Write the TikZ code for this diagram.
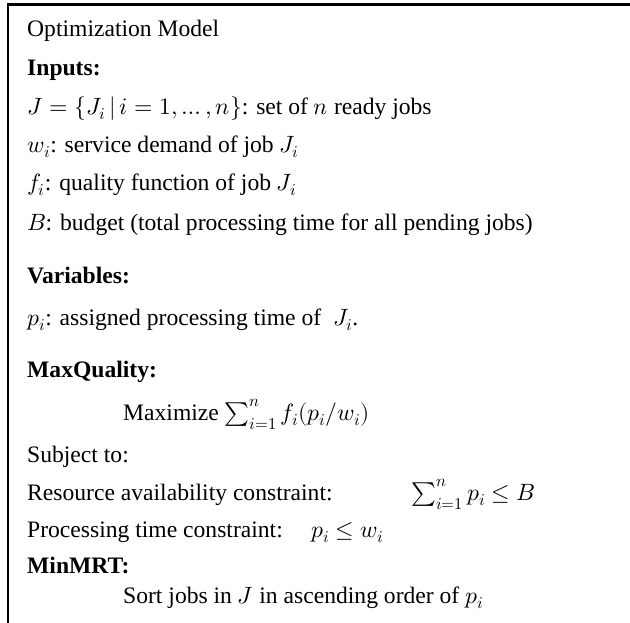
\documentclass[tikz,border=0pt]{standalone}
\usepackage{fontspec}
\usepackage{unicode-math}
\setmainfont{Liberation Serif}
\begin{document}
\begin{tikzpicture}[x=1pt,y=-1pt,
  txt/.style={anchor=base west,inner sep=0pt,font=\fontsize{23.6}{28}\selectfont},
  hd/.style={txt,font=\fontsize{23.6}{28}\selectfont\bfseries},
  frame/.style={line width=2.4pt,line cap=rect}]
\useasboundingbox (0,0) rectangle (630,622);
% open frame: top edge and left edge only
\coordinate (tl) at (8,4.5);
\coordinate (tr) at (632,4.5);
\coordinate (bl) at (8,624);
\draw[frame] (bl) -- (tl) -- (tr);
% inputs
\node[txt] (title) at (27,36) {Optimization Model};
\node[hd]  (inp)   at (27,75) {Inputs:};
\node[txt] (jset)  at (27,114) {$J=\{J_i\,|\,i=1,\ldots,n\}$: set of $n$ ready jobs};
\node[txt] (wi)    at (27,152) {$w_i$: service demand of job $J_i$};
\node[txt] (fi)    at (27,190) {$f_i$: quality function of job $J_i$};
\node[txt] (bud)   at (27,230) {$B$: budget (total processing time for all pending jobs)};
% variables
\node[hd]  (var)   at (27,283) {Variables:};
\node[txt] (pi)    at (27,325) {$p_i$: assigned processing time of \ $J_i$.};
% MaxQuality
\node[hd]  (mq)    at (27,377) {MaxQuality:};
\node[txt] (obj)   at (123,420) {Maximize $\sum_{i=1}^{n} f_i(p_i/w_i)$};
\node[txt] (subj)  at (27,462) {Subject to:};
\node[txt] (res)   at (27,500) {Resource availability constraint:};
\node[txt] (resm)  at (411,500) {$\sum_{i=1}^{n} p_i \le B$};
\node[txt] (proc)  at (27,537) {Processing time constraint:};
\node[txt] (procm) at (311,537) {$p_i \le w_i$};
% MinMRT
\node[hd]  (mm)    at (27,573) {MinMRT:};
\node[txt] (sort)  at (123,603) {Sort jobs in $J$ in ascending order of $p_i$};
\end{tikzpicture}
\end{document}
